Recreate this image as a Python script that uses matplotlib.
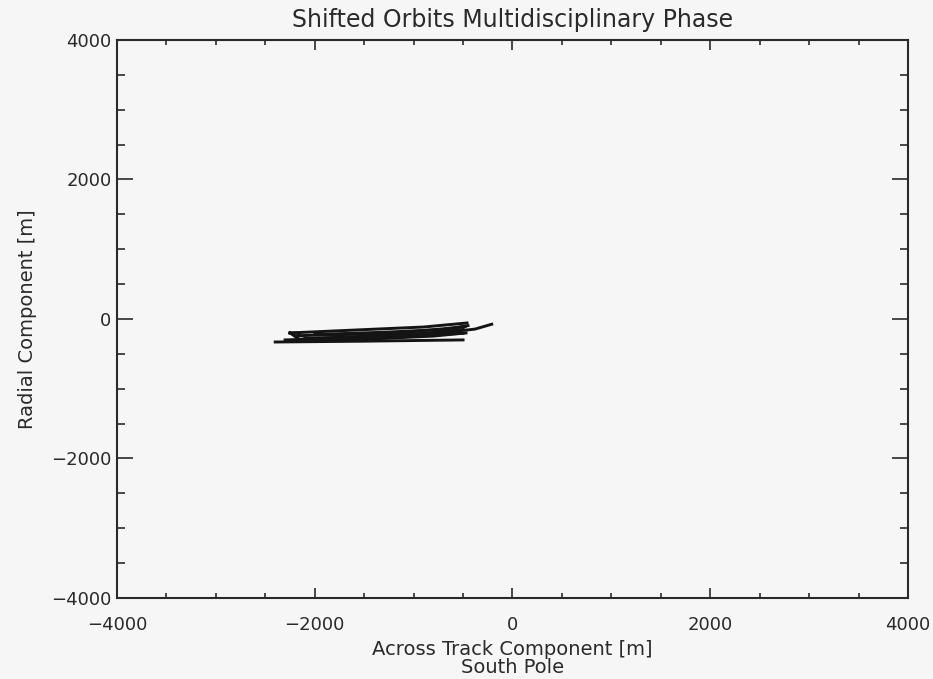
#!/usr/bin/env python3
"""
Radial vs across-track offsets of the shifted orbits
(multidisciplinary phase, south pole passes).
"""

import matplotlib
matplotlib.use("Agg")
import matplotlib.pyplot as plt
from matplotlib.ticker import MultipleLocator


# =========================================================
# DATA  (across track [m], radial [m]) per orbit pass
# =========================================================
pass1_x = [-2400, -1500, -500]
pass1_y = [-330, -318, -300]

pass2_x = [-2250, -1700, -900, -460]
pass2_y = [-200, -165, -115, -57]

pass3_x = [-2150, -1700, -1100, -600, -380, -210]
pass3_y = [-290, -262, -222, -180, -145, -75]

pass4_x = [-2300, -1600, -900, -500]
pass4_y = [-300, -268, -210, -150]

pass5_x = [-2200, -1200, -480]
pass5_y = [-240, -205, -112]

pass6_x = [-2100, -1500, -1000, -500]
pass6_y = [-280, -250, -232, -205]

pass7_x = [-2250, -1400, -800, -470]
pass7_y = [-310, -285, -245, -200]

pass8_x = [-2000, -1300, -700, -450]
pass8_y = [-222, -190, -150, -95]

# small turn at the start of the upper pass
turn_x = [-2250, -2150, -2175, -2250]
turn_y = [-200, -200, -272, -200]

passes = [
    (pass1_x, pass1_y),
    (pass2_x, pass2_y),
    (pass3_x, pass3_y),
    (pass4_x, pass4_y),
    (pass5_x, pass5_y),
    (pass6_x, pass6_y),
    (pass7_x, pass7_y),
    (pass8_x, pass8_y),
    (turn_x, turn_y),
]

TITLE = "Shifted Orbits Multidisciplinary Phase"
XLABEL = "Across Track Component [m]\nSouth Pole"
YLABEL = "Radial Component [m]"

LIM = 4000
INK = "#2a2a2a"
BG = "#f6f6f6"


# =========================================================
# PLOT
# =========================================================
def main():
    plt.rcParams["font.family"] = "DejaVu Sans"

    fig = plt.figure(figsize=(9.33, 6.79), dpi=100, facecolor=BG)
    ax = fig.add_axes([0.1254, 0.1193, 0.8478, 0.8218], facecolor=BG)

    for xs, ys in passes:
        ax.plot(xs, ys, color="#141414", lw=2.1, solid_joinstyle="miter")

    ax.set_xlim(-LIM, LIM)
    ax.set_ylim(-LIM, LIM)

    ax.xaxis.set_major_locator(MultipleLocator(2000))
    ax.xaxis.set_minor_locator(MultipleLocator(500))
    ax.yaxis.set_major_locator(MultipleLocator(2000))
    ax.yaxis.set_minor_locator(MultipleLocator(500))

    # IDL style ticks: inside, on all four sides
    ax.tick_params(axis="both", which="both", direction="in",
                   top=True, right=True, color=INK, width=1.2,
                   labelcolor=INK, labelsize=13)
    ax.tick_params(axis="x", which="major", length=7.2, pad=13)
    ax.tick_params(axis="x", which="minor", length=3.6)
    ax.tick_params(axis="y", which="major", length=11.5, pad=4)
    ax.tick_params(axis="y", which="minor", length=5.8)

    for sp in ax.spines.values():
        sp.set_color(INK)
        sp.set_linewidth(1.5)

    ax.set_title(TITLE, fontsize=17, color=INK, pad=9)
    ax.set_xlabel(XLABEL, fontsize=14, color=INK, labelpad=4, linespacing=0.95)
    ax.set_ylabel(YLABEL, fontsize=14, color=INK, labelpad=10)

    fig.savefig("out.png", dpi=100, facecolor=BG)


if __name__ == "__main__":
    main()
